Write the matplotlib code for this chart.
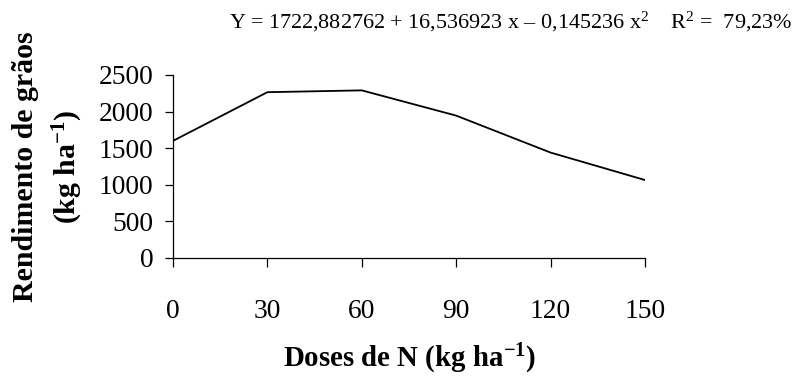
import matplotlib
matplotlib.use("Agg")
import matplotlib.pyplot as plt

# N doses (kg/ha) and grain yield (kg/ha)
doses = [0, 30, 60, 90, 120, 150]
rendimento = [1600, 2265, 2290, 1945, 1440, 1065]
yticks = [0, 500, 1000, 1500, 2000, 2500]

plt.rcParams.update({
    "font.family": ["Liberation Serif", "DejaVu Serif"],
    "mathtext.fontset": "custom",
    "mathtext.rm": "Liberation Serif",
    "mathtext.bf": "Liberation Serif:bold",
    "mathtext.default": "regular",
})

fig = plt.figure(figsize=(7.96, 3.78), dpi=100)
ax = fig.add_axes([0.2173, 0.3175, 0.8103 - 0.2173, 0.8016 - 0.3175])

ax.plot(doses, rendimento, color="black", linewidth=1.3)

ax.set_xlim(0, 150)
ax.set_ylim(0, 2500)
ax.set_xticks(doses)
ax.set_yticks(yticks)
ax.spines["top"].set_visible(False)
ax.spines["right"].set_visible(False)
for s in ("left", "bottom"):
    ax.spines[s].set_linewidth(0.9)
ax.tick_params(axis="x", direction="out", length=6.5, width=0.9, pad=23, labelsize=19.8)
ax.tick_params(axis="y", direction="out", length=6, width=0.9, pad=8, labelsize=19.8)

ax.set_xlabel(r"Doses de N (kg ha$^{-1}$)", fontsize=20.8, fontweight="bold", labelpad=13)
ax.set_ylabel("Rendimento de grãos\n" + r"(kg ha$^{-1}$)", fontsize=21.5,
              fontweight="bold", labelpad=10, linespacing=1.45)

fig.text(0.995, 0.942,
         r"Y = 1722,882762 + 16,536923 x – 0,145236 x$^{2}$    R$^{2}$ =  79,23%",
         ha="right", va="center", fontsize=15.9)

fig.savefig("out.png", dpi=100)
